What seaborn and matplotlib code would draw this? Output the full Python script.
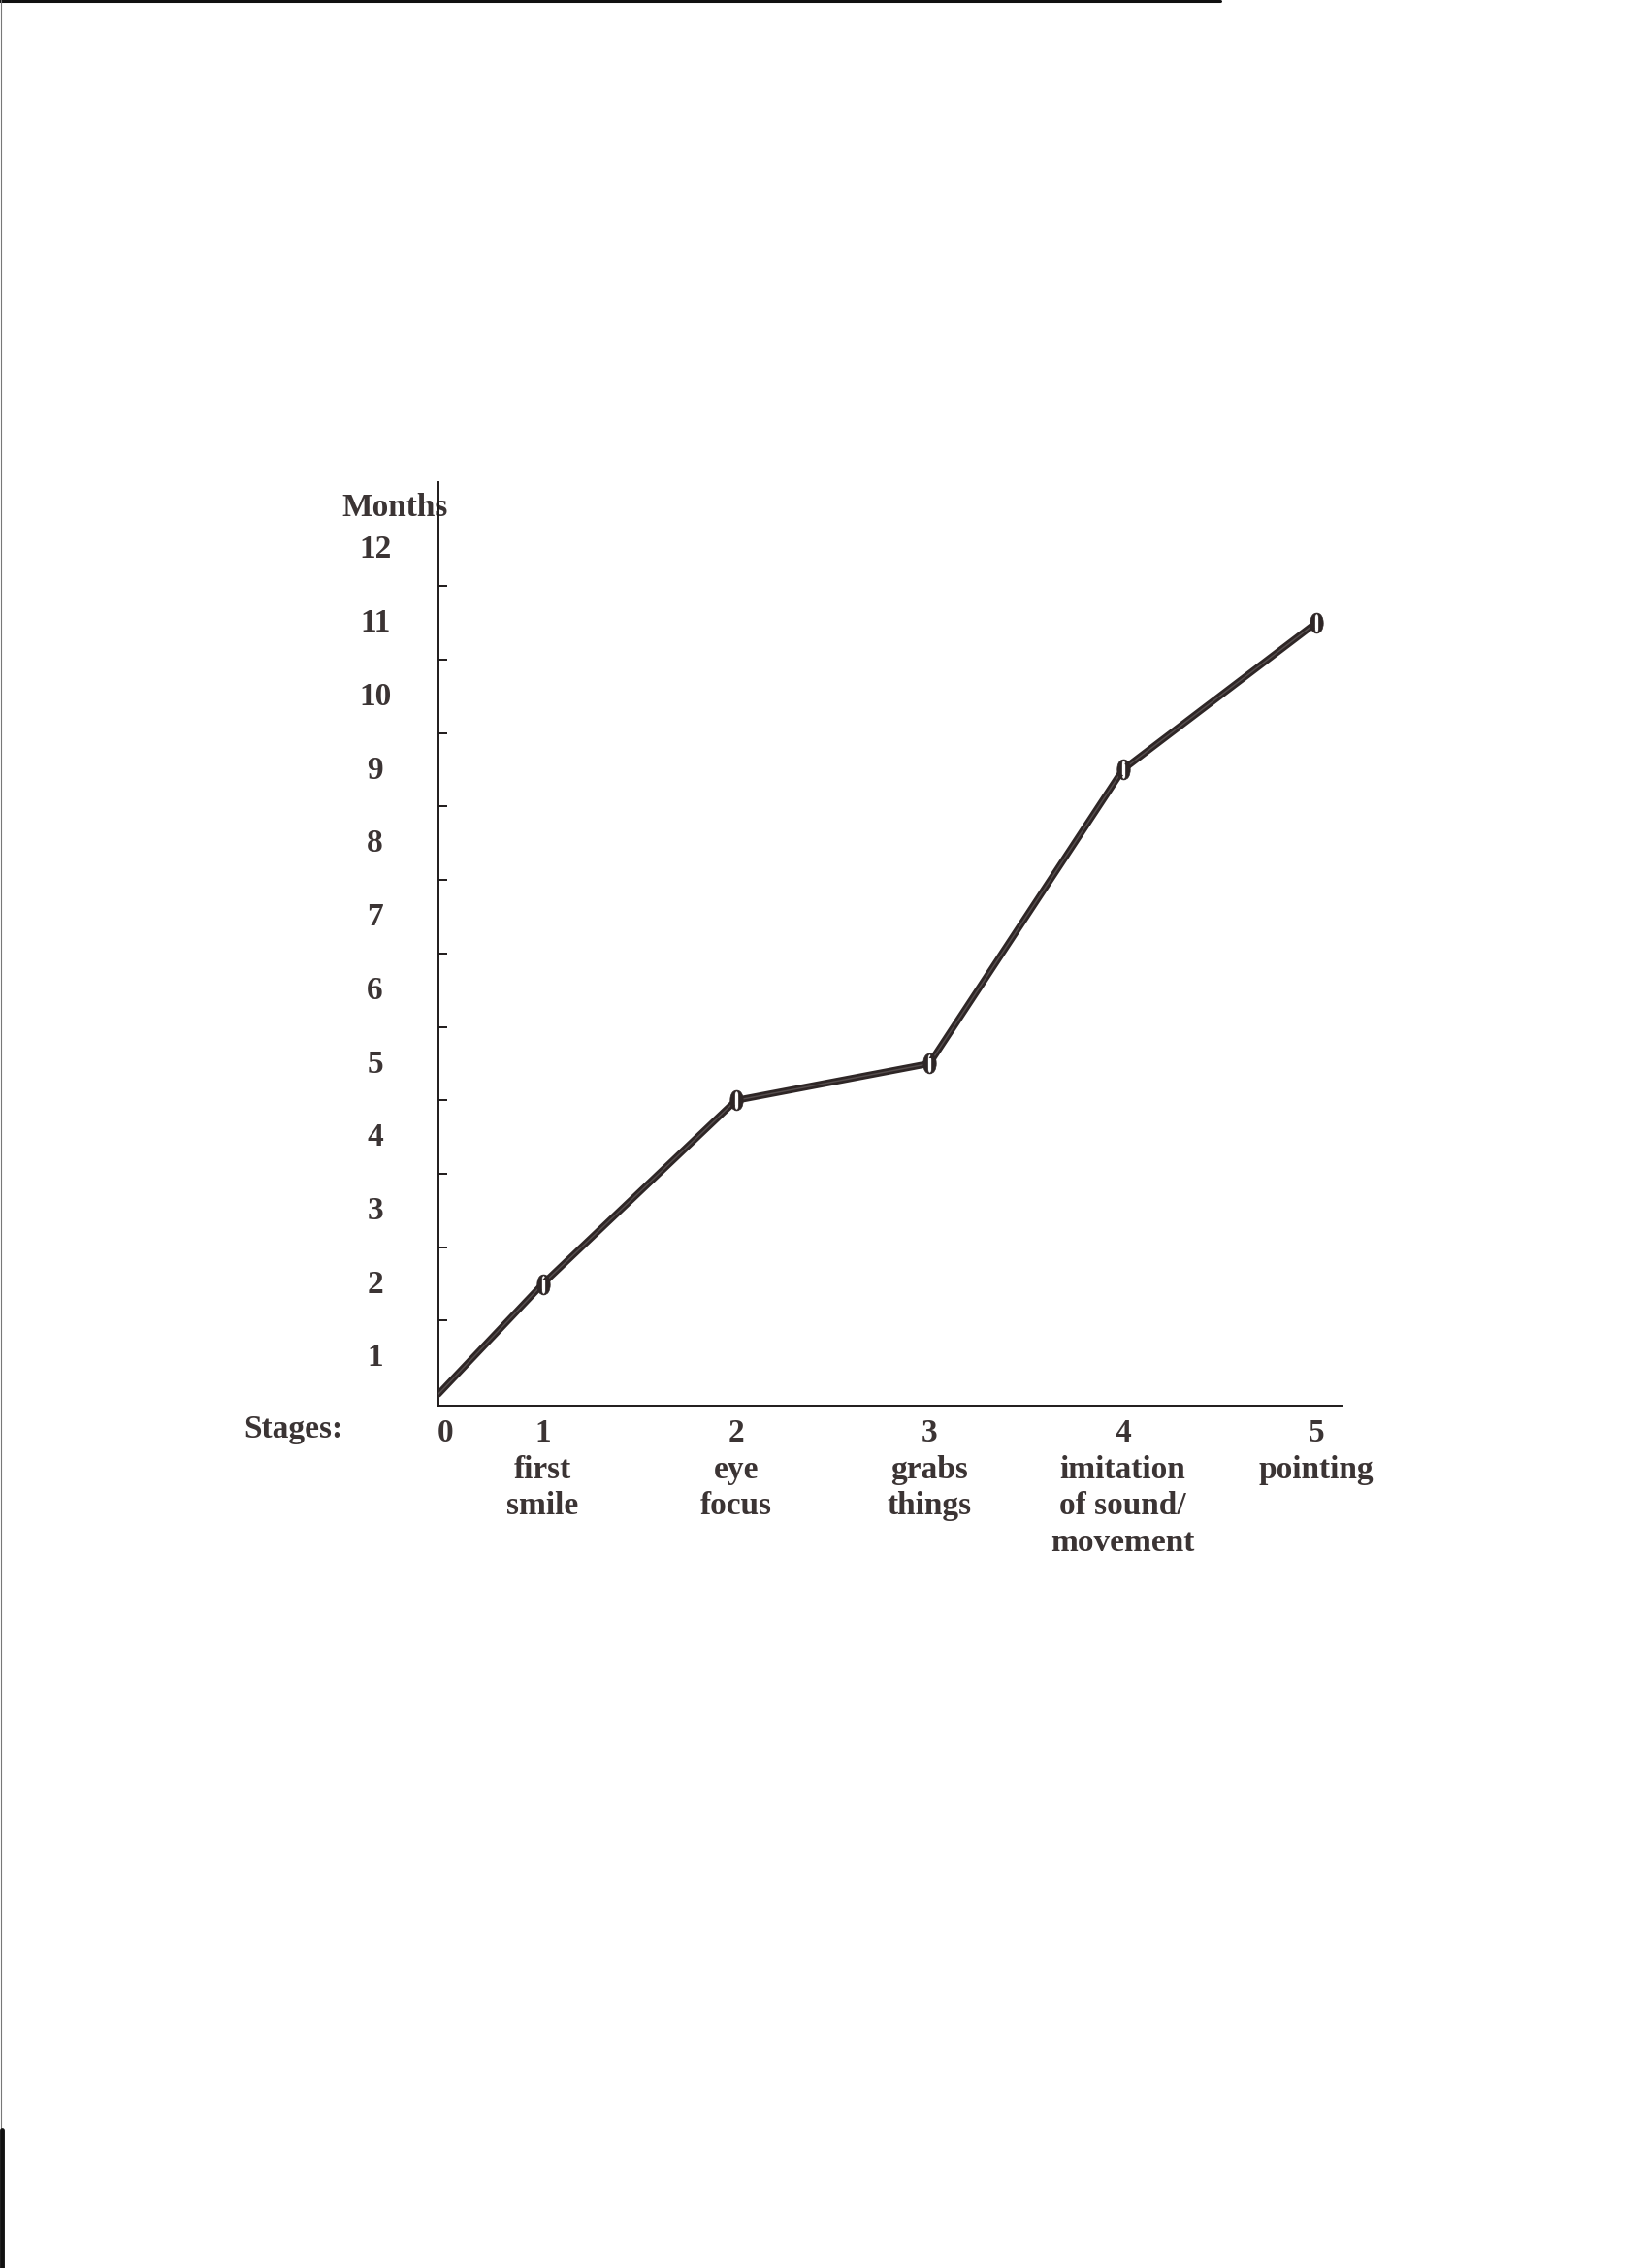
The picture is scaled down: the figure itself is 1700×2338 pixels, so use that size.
import matplotlib
matplotlib.use("Agg")
import matplotlib.pyplot as plt
import seaborn as sns
from matplotlib.lines import Line2D
from matplotlib.transforms import ScaledTranslation

# Data
stages = ["0", "1", "2", "3", "4", "5"]
stage_names = ["", "first\nsmile", "eye\nfocus", "grabs\nthings",
               "imitation\nof sound/\nmovement", "pointing"]
stage_x = [0.46, 1, 2, 3, 4, 5]          # where each stage sits on the drawn axis
months = [0, 1.5, 4, 4.5, 8.5, 10.5]
month_ticks = list(range(1, 13))

sns.set_theme(style="white")
plt.rcParams["font.family"] = ["Liberation Serif", "DejaVu Serif"]
plt.rcParams["font.weight"] = "bold"
plt.rcParams["mathtext.fontset"] = "stix"

ink = "#2e2626"
text_col = "#3b3434"

fig = plt.figure(figsize=(17, 23.38), dpi=100)
fig.set_facecolor("white")
ax = fig.add_axes([0.2658, 0.3801, 0.5482, 0.4075])
ax.set_facecolor("white")

# hand-drawn marker line: dark stroke with a faint lighter streak on top
sns.lineplot(x=stage_x, y=months, ax=ax, color=ink, linewidth=5, zorder=3)
ax.plot(stage_x, months, color="#a09898", linewidth=1.0, alpha=0.35, zorder=4)
# "0" marks drawn over the line with a white centre
ax.plot(stage_x[1:], months[1:], ls="none", marker="o", markersize=8,
        markerfacecolor="white", markeredgecolor="none", zorder=5)
ax.plot(stage_x[1:], months[1:], ls="none", marker="$0$", markersize=15,
        markeredgewidth=0.5, markeredgecolor=ink, markerfacecolor=ink, zorder=6)

ax.set_xlim(0.462, 5.135)
ax.set_ylim(-0.16, 12.42)

for side in ["top", "right"]:
    ax.spines[side].set_visible(False)
for side in ["left", "bottom"]:
    ax.spines[side].set_color("#1e1a1a")
    ax.spines[side].set_linewidth(1.4)

# x axis: stage numbers with their names underneath
ax.set_xticks(stage_x)
ax.set_xticklabels([f"{s}\n{n}" if n else s for s, n in zip(stages, stage_names)],
                   fontsize=24, fontweight="bold", color=text_col,
                   linespacing=1.28)
ax.tick_params(axis="x", length=0, pad=9)
ax.get_xticklabels()[0].set_transform(
    ax.get_xticklabels()[0].get_transform()
    + ScaledTranslation(0.07, 0, fig.dpi_scale_trans))

# y axis: ticks point inward, labels sit about half a step below each tick
ax.set_yticks(month_ticks)
ax.set_yticklabels([str(m) for m in month_ticks], fontsize=24,
                   fontweight="bold", color=text_col)
ax.tick_params(axis="y", direction="in", length=6.5, width=1.4,
               color="#1e1a1a", pad=47, left=True)
ax.yaxis.get_major_ticks()[-1].tick1line.set_visible(False)
shift = ScaledTranslation(0, -0.35, fig.dpi_scale_trans)
for lab in ax.get_yticklabels():
    lab.set_horizontalalignment("center")
    lab.set_transform(lab.get_transform() + shift)

ax.text(-0.048, 12.07, "Months", transform=ax.get_yaxis_transform(),
        ha="center", va="center", fontsize=24, fontweight="bold",
        color=text_col, zorder=1)
ax.text(-0.16, -0.025, "Stages:", transform=ax.transAxes,
        ha="center", va="center", fontsize=24, fontweight="bold",
        color=text_col)

# scan edges
fig.add_artist(Line2D([0, 0.74], [0.9995, 0.9995], transform=fig.transFigure,
                      color="#111111", linewidth=2.2))
fig.add_artist(Line2D([0.0008, 0.0008], [0, 1], transform=fig.transFigure,
                      color="#777777", linewidth=0.8))
fig.add_artist(Line2D([0.0012, 0.0012], [0, 0.0607], transform=fig.transFigure,
                      color="#111111", linewidth=3.5))

fig.savefig("out.png", dpi=100, facecolor="white")
